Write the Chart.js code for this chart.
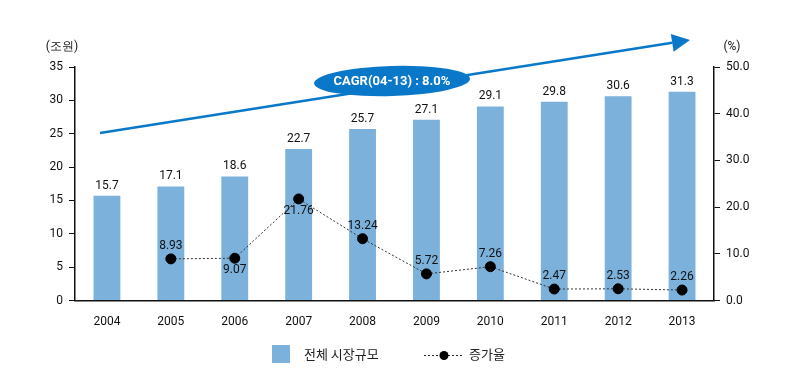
<!DOCTYPE html>
<html><head><meta charset="utf-8">
<script src="https://cdn.jsdelivr.net/npm/chart.js@4"></script>
<style>
html,body{margin:0;padding:0;background:#fff;}
#wrap{position:relative;width:800px;height:380px;}
#legend{position:absolute;top:343px;left:0;width:800px;font-family:"Noto Sans CJK KR","Noto Sans",sans-serif;font-size:13px;color:#222;}
.box{position:absolute;top:2px;width:18px;height:18px;background:#7cb1dc;}
.txt{position:absolute;top:1px;}
</style></head>
<body><div id="wrap"><canvas id="c" width="800" height="380"></canvas>
<div id="legend">
<div class="box" style="left:272px"></div><div class="txt" style="left:304px">전체 시장규모</div>
<canvas id="lg" width="40" height="20" style="position:absolute;left:424px;top:2px"></canvas>
<div class="txt" style="left:469px">증가율</div>
</div></div>
<script>
const categories = ["2004","2005","2006","2007","2008","2009","2010","2011","2012","2013"];
const marketSize = [15.7,17.1,18.6,22.7,25.7,27.1,29.1,29.8,30.6,31.3];
const growthRate = [null,8.93,9.07,21.76,13.24,5.72,7.26,2.47,2.53,2.26];
const growthLabelPos = [null,"above","below","below","above","above","above","above","above","above"];
const leftTicks = [0,5,10,15,20,25,30,35];
const rightTicks = [0,10,20,30,40,50];
const cagrText = "CAGR(04-13) : 8.0%";

const FONT = "'Roboto',sans-serif";
const lg = document.getElementById('lg').getContext('2d');
lg.strokeStyle='#222'; lg.lineWidth=1; lg.setLineDash([2,2]);
lg.beginPath(); lg.moveTo(0,10.5); lg.lineTo(40,10.5); lg.stroke();
lg.fillStyle='#000'; lg.beginPath(); lg.arc(20,10.5,4.5,0,Math.PI*2); lg.fill();

const overlay = {
  id:'overlay',
  afterDatasetsDraw(chart){
    const ctx = chart.ctx, ca = chart.chartArea;
    ctx.save();
    ctx.font = "12px " + FONT; ctx.fillStyle = '#111'; ctx.textAlign='center';
    const bm = chart.getDatasetMeta(0);
    bm.data.forEach((b,i)=>{ ctx.textBaseline='bottom'; ctx.fillText(marketSize[i].toFixed(1), b.x, b.y-4); });
    const lm = chart.getDatasetMeta(1);
    lm.data.forEach((p,i)=>{
      if(growthRate[i]==null) return;
      if(growthLabelPos[i]==='below'){ ctx.textBaseline='top'; ctx.fillText(growthRate[i].toFixed(2), p.x, p.y+6); }
      else { ctx.textBaseline='bottom'; ctx.fillText(growthRate[i].toFixed(2), p.x, p.y-7); }
    });
    ctx.textBaseline='middle'; ctx.textAlign='center';
    ctx.fillText("(조원)", 62, 47);
    ctx.fillText("(%)", 732, 47);
    // CAGR arrow
    const x0 = ca.left+25, y0 = ca.top+66, x1 = ca.right-24, y1 = ca.top-27;
    ctx.strokeStyle='#0a78c8'; ctx.lineWidth=2.5;
    const ang = Math.atan2(y1-y0, x1-x0);
    const hx = x1 - 18*Math.cos(ang), hy = y1 - 18*Math.sin(ang);
    ctx.beginPath(); ctx.moveTo(x0,y0); ctx.lineTo(hx,hy); ctx.stroke();
    ctx.fillStyle='#0a78c8';
    ctx.beginPath(); ctx.moveTo(x1,y1);
    ctx.lineTo(hx + 9*Math.sin(ang), hy - 9*Math.cos(ang));
    ctx.lineTo(hx - 9*Math.sin(ang), hy + 9*Math.cos(ang));
    ctx.closePath(); ctx.fill();
    // ellipse
    const ex = 392, ey = 81;
    ctx.beginPath(); ctx.ellipse(ex, ey, 78, 15, -0.03, 0, Math.PI*2); ctx.fill();
    ctx.fillStyle='#fff'; ctx.font = "bold 13px " + FONT; ctx.textAlign='center'; ctx.textBaseline='middle';
    ctx.fillText(cagrText, ex, ey+1);
    ctx.restore();
  }
};

new Chart(document.getElementById('c'), {
  data:{
    labels: categories,
    datasets:[
      {type:'bar', data: marketSize, backgroundColor:'#7cb1dc', yAxisID:'y', barPercentage:0.42, categoryPercentage:1, order:2},
      {type:'line', data: growthRate, yAxisID:'y1', borderColor:'#333', borderWidth:1, borderDash:[2,2],
       pointRadius:5, pointBackgroundColor:'#000', pointBorderColor:'#000', spanGaps:false, order:1}
    ]
  },
  options:{
    responsive:false, animation:false,
    plugins:{legend:{display:false}, tooltip:{enabled:false}},
    scales:{
      x:{
        grid:{display:false, drawTicks:false},
        border:{color:'#111', width:1.5},
        ticks:{color:'#111', font:{family:FONT,size:12}, padding:14}
      },
      y:{
        position:'left', min:0, max:35,
        afterBuildTicks(s){ s.ticks = leftTicks.map(v=>({value:v})); },
        afterFit(s){ s.width = 75; },
        grid:{display:true, drawOnChartArea:false, drawTicks:true, tickLength:6, color:'#111'},
        border:{color:'#111', width:1.5},
        ticks:{color:'#111', font:{family:FONT,size:12}, padding:6}
      },
      y1:{
        position:'right', min:0, max:50,
        afterBuildTicks(s){ s.ticks = rightTicks.map(v=>({value:v})); },
        afterFit(s){ s.width = 86; },
        grid:{display:true, drawOnChartArea:false, drawTicks:true, tickLength:6, color:'#111'},
        border:{color:'#111', width:1.5},
        ticks:{color:'#111', font:{family:FONT,size:12}, padding:6, callback:v=>v.toFixed(1)}
      }
    }
  },
  plugins:[overlay, {id:'pad', beforeLayout(chart){ chart.options.layout.padding = {top:67, bottom:37, left:0, right:0}; }}]
});
</script></body></html>
